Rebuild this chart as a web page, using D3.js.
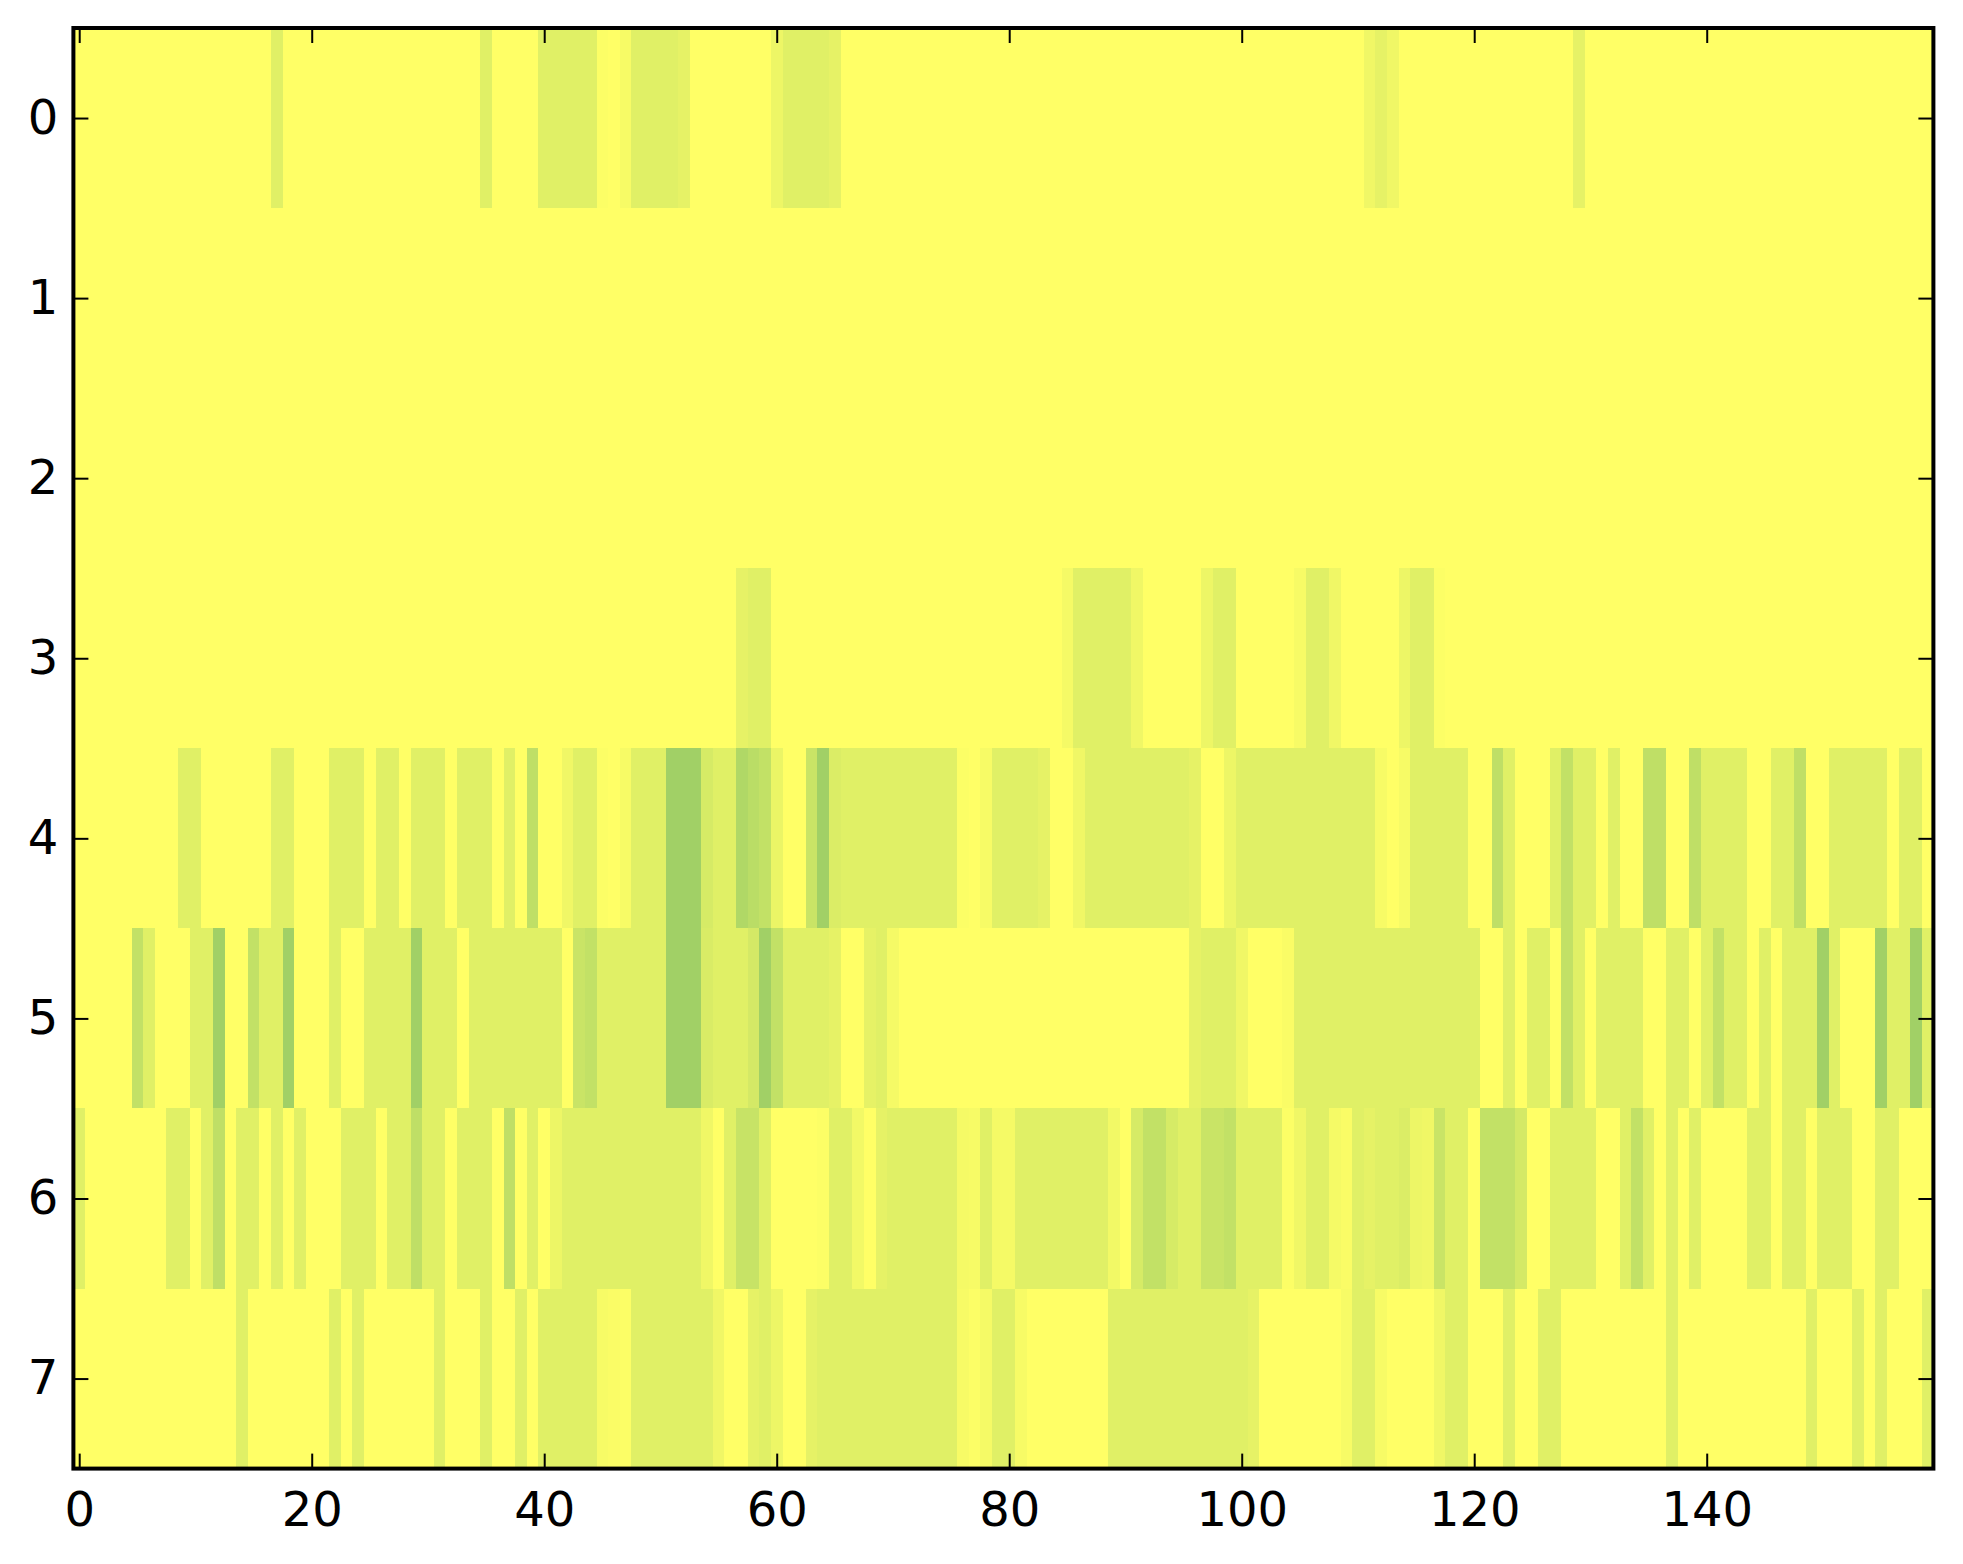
<!DOCTYPE html>
<html>
<head>
<meta charset="utf-8">
<script src="https://cdn.jsdelivr.net/npm/d3@7"></script>
<style>
html,body{margin:0;padding:0;background:#fff;}
svg{display:block;}
</style>
</head>
<body>
<svg id="chart" width="1963" height="1564"></svg>
<script>
const xTicks = [0,20,40,60,80,100,120,140];
const yTicks = [0,1,2,3,4,5,6,7];

const row0 = [
0,0,0,0,0,0,0,0,0,0, 0,0,0,0,0,0,0,12,0,0, 0,0,0,0,0,0,0,0,0,0, 0,0,0,0,0,12,0,0,0,0,
12,12,12,12,12,1,0,3,12,12, 12,12,10,0,0,0,0,0,0,0, 7,12,12,12,12,10,0,0,0,0, 0,0,0,0,0,0,0,0,0,0,
0,0,0,0,0,0,0,0,0,0, 0,0,0,0,0,0,0,0,0,0, 0,0,0,0,0,0,0,0,0,0, 0,6,10,6,0,0,0,0,0,0,
0,0,0,0,0,0,0,0,0,10, 0,0,0,0,0,0,0,0,0,0, 0,0,0,0,0,0,0,0,0,0, 0,0,0,0,0,0,0,0,0,0];
const row1 = [
0,0,0,0,0,0,0,0,0,0, 0,0,0,0,0,0,0,0,0,0, 0,0,0,0,0,0,0,0,0,0, 0,0,0,0,0,0,0,0,0,0,
0,0,0,0,0,0,0,0,0,0, 0,0,0,0,0,0,0,0,0,0, 0,0,0,0,0,0,0,0,0,0, 0,0,0,0,0,0,0,0,0,0,
0,0,0,0,0,0,0,0,0,0, 0,0,0,0,0,0,0,0,0,0, 0,0,0,0,0,0,0,0,0,0, 0,0,0,0,0,0,0,0,0,0,
0,0,0,0,0,0,0,0,0,0, 0,0,0,0,0,0,0,0,0,0, 0,0,0,0,0,0,0,0,0,0, 0,0,0,0,0,0,0,0,0,0];
const row2 = [
0,0,0,0,0,0,0,0,0,0, 0,0,0,0,0,0,0,0,0,0, 0,0,0,0,0,0,0,0,0,0, 0,0,0,0,0,0,0,0,0,0,
0,0,0,0,0,0,0,0,0,0, 0,0,0,0,0,0,0,0,0,0, 0,0,0,0,0,0,0,0,0,0, 0,0,0,0,0,0,0,0,0,0,
0,0,0,0,0,0,0,0,0,0, 0,0,0,0,0,0,0,0,0,0, 0,0,0,0,0,0,0,0,0,0, 0,0,0,0,0,0,0,0,0,0,
0,0,0,0,0,0,0,0,0,0, 0,0,0,0,0,0,0,0,0,0, 0,0,0,0,0,0,0,0,0,0, 0,0,0,0,0,0,0,0,0,0];
const row3 = [
0,0,0,0,0,0,0,0,0,0, 0,0,0,0,0,0,0,0,0,0, 0,0,0,0,0,0,0,0,0,0, 0,0,0,0,0,0,0,0,0,0,
0,0,0,0,0,0,0,0,0,0, 0,0,0,0,0,0,0,10,12,12, 0,0,0,0,0,0,0,0,0,0, 0,0,0,0,0,0,0,0,0,0,
0,0,0,0,0,4,12,12,12,12, 12,6,0,0,0,0,0,7,12,12, 0,0,0,0,0,3,12,12,6,0, 0,0,0,0,7,12,12,1,0,0,
0,0,0,0,0,0,0,0,0,0, 0,0,0,0,0,0,0,0,0,0, 0,0,0,0,0,0,0,0,0,0, 0,0,0,0,0,0,0,0,0,0];
const row4 = [
0,0,0,0,0,0,0,0,0,12, 12,0,0,0,0,0,0,12,12,0, 0,0,12,12,12,0,12,12,0,12, 12,12,0,12,12,12,0,12,0,25,
0,0,6,12,12,1,0,3,12,12, 12,37,37,37,16,12,12,31,27,24, 8,0,0,21,37,14,12,12,12,12, 12,12,12,12,12,12,1,0,3,12,
12,12,12,10,0,0,6,12,12,12, 12,12,12,12,12,12,10,0,0,7, 12,12,12,12,12,12,12,12,12,12, 12,12,3,0,3,12,12,12,12,12,
0,0,25,12,0,0,0,12,24,12, 12,0,12,0,0,25,25,0,0,25, 12,12,12,12,0,0,12,12,25,0, 0,12,12,12,12,12,0,12,12,0];
const row5 = [
0,0,0,0,0,24,12,0,0,0, 12,12,37,0,0,24,12,12,37,0, 0,0,12,0,0,12,12,12,12,37, 12,12,12,0,12,12,12,12,12,12,
12,12,0,21,24,12,12,12,12,12, 12,37,37,37,15,12,12,12,17,37, 24,12,12,12,12,10,0,0,10,12, 4,0,0,0,0,0,0,0,0,0,
0,0,0,0,0,0,0,0,0,0, 0,0,0,0,0,0,10,12,12,12, 6,0,0,0,2,12,12,12,12,12, 12,12,12,12,12,12,12,12,12,12,
12,0,0,12,0,12,12,0,24,12, 0,12,12,12,12,0,0,12,12,0, 12,24,12,12,0,12,0,12,12,12, 37,12,0,0,0,37,12,12,37,12];
const row6 = [
12,0,0,0,0,0,0,0,12,12, 0,12,25,0,12,12,0,12,0,12, 0,0,0,12,12,12,0,12,12,25, 12,12,0,12,12,12,0,25,0,12,
0,7,12,12,12,12,12,12,12,12, 12,12,12,12,6,0,12,22,22,12, 0,0,0,0,1,12,12,5,0,10, 12,12,12,12,12,12,4,3,12,4,
4,12,12,12,12,12,12,12,12,5, 0,16,24,24,16,12,12,21,21,24, 12,12,12,12,1,6,12,12,4,2, 12,10,12,12,14,7,6,21,12,12,
0,24,24,24,17,0,0,12,12,12, 12,0,0,12,24,12,0,12,0,12, 0,0,0,0,12,12,0,12,12,0, 12,12,12,0,0,12,12,0,0,0];
const row7 = [
0,0,0,0,0,0,0,0,0,0, 0,0,0,0,12,0,0,0,0,0, 0,0,12,0,12,0,0,0,0,0, 0,12,0,0,0,12,0,0,12,0,
12,12,12,12,12,3,2,1,12,12, 12,12,12,12,12,6,0,0,10,12, 7,0,0,10,12,12,12,12,12,12, 12,12,12,12,12,12,3,1,4,12,
12,3,0,0,0,0,0,0,0,12, 12,12,12,12,12,12,12,12,12,12, 12,10,0,0,0,0,0,0,0,3, 12,12,3,0,0,0,0,6,12,12,
0,0,0,12,0,0,12,12,0,0, 0,0,0,0,0,0,0,12,0,0, 0,0,0,0,0,0,0,0,0,12, 0,0,0,12,0,12,0,0,0,12];
const rows = [row0,row1,row2,row3,row4,row5,row6,row7];

const svg = d3.select("#chart");
const x = d3.scaleLinear().domain([-0.5,159.5]).range([73.4,1933.4]);
const y = d3.scaleLinear().domain([-0.5,7.5]).range([28,1468.6]);
// summer_r colour map; values are stored in hundredths
const color = d3.scaleLinear().domain([0,100]).range(["#ffff66","#008066"]);

const cells = rows.flatMap((r,i)=>r.map((v,j)=>({i,j,v})));
svg.append("g").attr("shape-rendering","crispEdges")
  .selectAll("rect").data(cells).join("rect")
  .attr("x",d=>x(d.j-0.5))
  .attr("y",d=>y(d.i-0.5))
  .attr("width",d=>x(d.j+0.5)-x(d.j-0.5))
  .attr("height",d=>y(d.i+0.5)-y(d.i-0.5))
  .attr("fill",d=>color(d.v));

const tl = 15, font = 48;
function style(g, noText){
  g.select(".domain").remove();
  g.selectAll(".tick line").attr("stroke","#000").attr("stroke-width",2);
  g.selectAll(".tick text").attr("fill","#000").attr("font-family","'DejaVu Sans'").attr("font-size",font);
  if(noText) g.selectAll(".tick text").remove();
}
const [xl,xr]=x.range(), [yt,yb]=y.range();
svg.append("g").attr("transform",`translate(0,${yb})`)
  .call(d3.axisBottom(x).tickValues(xTicks).tickFormat(d3.format("d")).tickSizeInner(-tl).tickSizeOuter(0).tickPadding(23))
  .call(g=>style(g,false));
svg.append("g").attr("transform",`translate(0,${yt})`)
  .call(d3.axisTop(x).tickValues(xTicks).tickSizeInner(-tl).tickSizeOuter(0))
  .call(g=>style(g,true));
svg.append("g").attr("transform",`translate(${xl},0)`)
  .call(d3.axisLeft(y).tickValues(yTicks).tickFormat(d3.format("d")).tickSizeInner(-tl).tickSizeOuter(0).tickPadding(15))
  .call(g=>style(g,false));
svg.append("g").attr("transform",`translate(${xr},0)`)
  .call(d3.axisRight(y).tickValues(yTicks).tickSizeInner(-tl).tickSizeOuter(0))
  .call(g=>style(g,true));
svg.append("rect").attr("x",xl).attr("y",yt).attr("width",xr-xl).attr("height",yb-yt)
  .attr("fill","none").attr("stroke","#000").attr("stroke-width",4);
</script>
</body>
</html>
